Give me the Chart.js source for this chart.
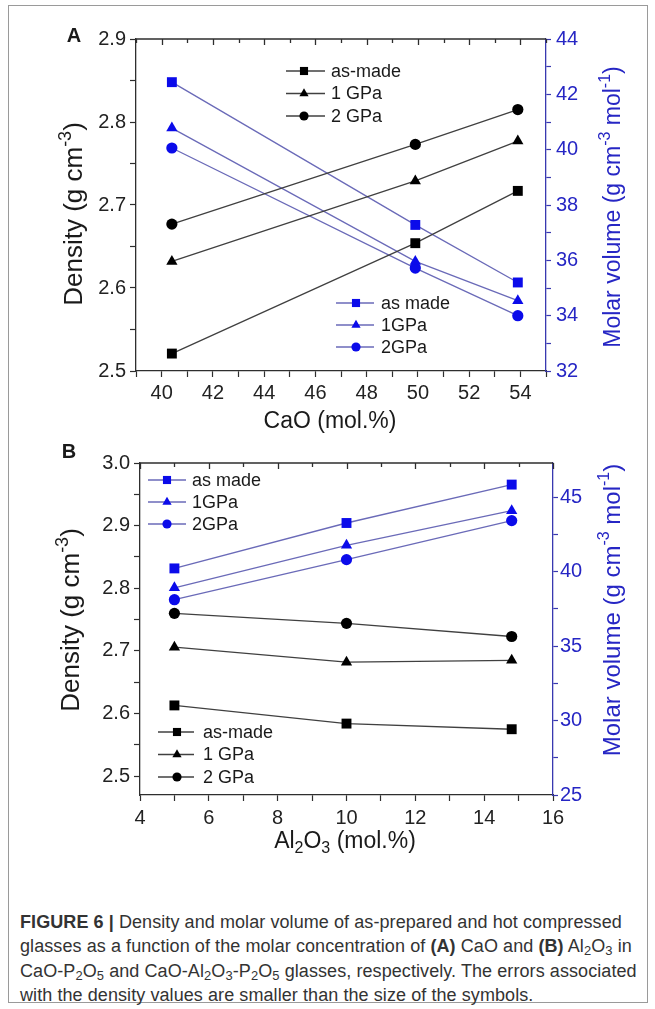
<!DOCTYPE html>
<html>
<head>
<meta charset="utf-8">
<title>Figure 6 - density and molar volume</title>
<script src="https://cdn.jsdelivr.net/npm/chart.js@4.4.1/dist/chart.umd.min.js"></script>
<style>
    html, body { margin: 0; padding: 0; background: #fff; }
    #page { position: relative; width: 655px; height: 1009px; font-family: "Liberation Sans", Arial, sans-serif; }
    #frame { position: absolute; left: 8px; top: 5px; width: 640px; height: 998px; border: 1px solid #9a9a9a; box-sizing: border-box; }
    .panel { position: absolute; left: 0; width: 655px; }
    #boxA { top: 0; height: 440px; }
    #boxB { top: 440px; height: 430px; }
    #caption { position: absolute; left: 20px; top: 910px; font-size: 18px; letter-spacing: 0.08px; line-height: 24.4px; color: #333; white-space: nowrap; }
    #caption sub { font-size: 0.72em; line-height: 0; vertical-align: -0.25em; }
</style>
</head>
<body>
<div id="page">
    <div id="frame"></div>
    <div class="panel" id="boxA"><canvas id="chartA"></canvas></div>
    <div class="panel" id="boxB"><canvas id="chartB"></canvas></div>
    <div id="caption"><b>FIGURE 6 |</b> Density and molar volume of as-prepared and hot compressed<br>glasses as a function of the molar concentration of <b>(A)</b> CaO and <b>(B)</b> Al<sub>2</sub>O<sub>3</sub> in<br>CaO-P<sub>2</sub>O<sub>5</sub> and CaO-Al<sub>2</sub>O<sub>3</sub>-P<sub>2</sub>O<sub>5</sub> glasses, respectively. The errors associated<br>with the density values are smaller than the size of the symbols.</div>
</div>

<script>
// ---- Panel A: CaO-P2O5 glasses ----
const caoA = [40.4, 49.9, 53.9];
const densAsMadeA = [2.521, 2.654, 2.717];
const dens1GPaA = [2.632, 2.729, 2.777];
const dens2GPaA = [2.677, 2.773, 2.815];
const volAsMadeA = [42.44, 37.28, 35.20];
const vol1GPaA = [40.78, 35.96, 34.54];
const vol2GPaA = [40.06, 35.72, 34.00];
const xTicksA = [40, 42, 44, 46, 48, 50, 52, 54];
const densTicksA = [2.5, 2.6, 2.7, 2.8, 2.9];
const volTicksA = [32, 34, 36, 38, 40, 42, 44];

// ---- Panel B: CaO-Al2O3-P2O5 glasses ----
const al2o3B = [5, 10, 14.8];
const densAsMadeB = [2.613, 2.584, 2.575];
const dens1GPaB = [2.706, 2.682, 2.685];
const dens2GPaB = [2.760, 2.744, 2.723];
const volAsMadeB = [40.22, 43.27, 45.85];
const vol1GPaB = [38.92, 41.77, 44.10];
const vol2GPaB = [38.12, 40.81, 43.43];
const xTicksB = [4, 6, 8, 10, 12, 14, 16];
const densTicksB = [2.5, 2.6, 2.7, 2.8, 2.9, 3.0];
const volTicksB = [25, 30, 35, 40, 45];

const blackLabels = ['as-made', '1 GPa', '2 GPa'];
const blueLabels = ['as made', '1GPa', '2GPa'];

const FONT = '"Liberation Sans", Arial, sans-serif';
const AXIS_BLACK = '#2e2e2e';
const AXIS_BLUE = '#3838b0';
const TEXT_BLUE = '#2626c4';
const LINE_BLACK = '#404040';
const LINE_BLUE = '#6a6ab8';
const MARK_BLACK = '#000000';
const MARK_BLUE = '#0b0bea';
const MARKERS = [['rect', 7], ['triangle', 6.5], ['circle', 5.6]];

Chart.defaults.font.family = FONT;
Chart.defaults.color = '#222';

function makeSeries(label, xs, ys, axis, blue, kind) {
    return {
        label: label,
        data: xs.map(function(x, i) { return { x: x, y: ys[i] }; }),
        yAxisID: axis,
        borderColor: blue ? LINE_BLUE : LINE_BLACK,
        borderWidth: 1.3,
        pointStyle: MARKERS[kind][0],
        pointRadius: MARKERS[kind][1],
        pointHoverRadius: MARKERS[kind][1],
        pointBackgroundColor: blue ? MARK_BLUE : MARK_BLACK,
        pointBorderColor: blue ? MARK_BLUE : MARK_BLACK,
        pointBorderWidth: 0,
        tension: 0,
        fill: false
    };
}

function isIn(list, v) {
    return list.some(function(m) { return Math.abs(m - v) < 1e-6; });
}

// major ticks plus one minor tick between each pair, kept inside min..max
function tickValues(cfg) {
    const out = [];
    const half = (cfg.majors[1] - cfg.majors[0]) / 2;
    for (let v = cfg.majors[0] - 4 * half; v <= cfg.max + 1e-9; v += half) {
        if (v >= cfg.min - 1e-9) out.push(Math.round(v * 1000) / 1000);
    }
    return out;
}

function linearAxis(cfg) {
    return {
        type: 'linear',
        position: cfg.position,
        min: cfg.min,
        max: cfg.max,
        afterBuildTicks: function(scale) {
            scale.ticks = tickValues(cfg).map(function(v) { return { value: v }; });
        },
        ticks: {
            autoSkip: false,
            maxRotation: 0,
            padding: cfg.padding,
            color: cfg.textColor,
            font: { size: 20 },
            callback: function(v) {
                return isIn(cfg.majors, v) ? v.toFixed(cfg.decimals) : '';
            }
        },
        grid: {
            drawOnChartArea: false,
            tickLength: cfg.tickLength || 6,
            tickWidth: 1.2,
            tickColor: cfg.lineColor
        },
        border: { color: cfg.lineColor, width: 1.3 },
        afterFit: function(scale) {
            if (cfg.size.w) scale.width = cfg.size.w;
            if (cfg.size.h) scale.height = cfg.size.h;
        }
    };
}

// top frame line with inward ticks, like the original plotting program
const topFrame = {
    id: 'topFrame',
    afterDraw: function(chart) {
        const ctx = chart.ctx, area = chart.chartArea, xs = chart.scales.x;
        ctx.save();
        ctx.strokeStyle = AXIS_BLACK;
        ctx.lineWidth = 1.3;
        ctx.beginPath();
        ctx.moveTo(area.left, area.top);
        ctx.lineTo(area.right, area.top);
        xs.ticks.forEach(function(t) {
            const px = Math.round(xs.getPixelForValue(t.value)) + 0.5;
            const len = t.label ? 6 : 4;
            ctx.moveTo(px, area.top);
            ctx.lineTo(px, area.top + len);
        });
        ctx.stroke();
        ctx.restore();
    }
};

// two separate keys drawn inside the plot
const seriesKey = {
    id: 'seriesKey',
    afterDraw: function(chart, args, opts) {
        const ctx = chart.ctx;
        (opts.groups || []).forEach(function(g) {
            g.items.forEach(function(idx, row) {
                const ds = chart.data.datasets[idx];
                const y = g.y + row * g.gap;
                ctx.save();
                ctx.strokeStyle = ds.borderColor;
                ctx.lineWidth = ds.borderWidth;
                ctx.beginPath();
                ctx.moveTo(g.x, y);
                ctx.lineTo(g.x + g.len, y);
                ctx.stroke();
                ctx.fillStyle = ds.pointBackgroundColor;
                ctx.strokeStyle = ds.pointBorderColor;
                Chart.helpers.drawPoint(ctx, {
                    pointStyle: ds.pointStyle,
                    radius: ds.pointRadius * 0.82,
                    rotation: 0,
                    borderWidth: 0
                }, g.x + g.mark, y);
                ctx.fillStyle = '#1a1a1a';
                ctx.font = '18px ' + FONT;
                ctx.textBaseline = 'middle';
                ctx.textAlign = 'left';
                ctx.fillText(ds.label, g.textX, y + 1);
                ctx.restore();
            });
        });
    }
};

// axis titles with super/subscripts, and the panel letter
const richText = {
    id: 'richText',
    afterDraw: function(chart, args, opts) {
        const ctx = chart.ctx;
        (opts.items || []).forEach(function(it) {
            const size = it.size || 23;
            const fontOf = function(seg) {
                const s = seg[1] ? Math.round(size * 0.68) : size;
                return (it.bold ? 'bold ' : '') + s + 'px ' + FONT;
            };
            ctx.save();
            ctx.translate(it.x, it.y);
            ctx.rotate(it.rot || 0);
            ctx.fillStyle = it.color || '#1a1a1a';
            ctx.textBaseline = 'middle';
            ctx.textAlign = 'left';
            let total = 0;
            it.segs.forEach(function(seg) {
                ctx.font = fontOf(seg);
                total += ctx.measureText(seg[0]).width;
            });
            let cx = -total / 2;
            it.segs.forEach(function(seg) {
                ctx.font = fontOf(seg);
                const dy = seg[1] === 'sup' ? -size * 0.36 : (seg[1] === 'sub' ? size * 0.3 : 0);
                ctx.fillText(seg[0], cx, dy);
                cx += ctx.measureText(seg[0]).width;
            });
            ctx.restore();
        });
    }
};

const densTitle = [['Density (g cm'], ['-3', 'sup'], [')']];
const volTitle = [['Molar volume (g cm'], ['-3', 'sup'], [' mol'], ['-1', 'sup'], [')']];

new Chart(document.getElementById('chartA'), {
    type: 'line',
    data: {
        datasets: [
            makeSeries(blackLabels[0], caoA, densAsMadeA, 'y', false, 0),
            makeSeries(blackLabels[1], caoA, dens1GPaA, 'y', false, 1),
            makeSeries(blackLabels[2], caoA, dens2GPaA, 'y', false, 2),
            makeSeries(blueLabels[0], caoA, volAsMadeA, 'y2', true, 0),
            makeSeries(blueLabels[1], caoA, vol1GPaA, 'y2', true, 1),
            makeSeries(blueLabels[2], caoA, vol2GPaA, 'y2', true, 2)
        ]
    },
    options: {
        responsive: true,
        maintainAspectRatio: false,
        devicePixelRatio: 1,
        animation: false,
        layout: { padding: { top: 39, left: 0, right: 0, bottom: 0 } },
        scales: {
            x: linearAxis({ position: 'bottom', min: 39, max: 55, majors: xTicksA, decimals: 0,
                padding: 4, textColor: '#222', lineColor: AXIS_BLACK, size: { h: 69 } }),
            y: linearAxis({ position: 'left', min: 2.5, max: 2.9, majors: densTicksA, decimals: 1,
                padding: 4, textColor: '#222', lineColor: AXIS_BLACK, size: { w: 136 } }),
            y2: linearAxis({ position: 'right', min: 32, max: 44, majors: volTicksA, decimals: 0,
                padding: 5, textColor: TEXT_BLUE, lineColor: AXIS_BLUE, tickLength: 5, size: { w: 109 } })
        },
        plugins: {
            legend: { display: false },
            tooltip: { enabled: false },
            seriesKey: {
                groups: [
                    { items: [0, 1, 2], x: 286, len: 39, mark: 18, textX: 331, y: 71, gap: 22.5 },
                    { items: [3, 4, 5], x: 336, len: 38, mark: 20, textX: 381, y: 303, gap: 22 }
                ]
            },
            richText: {
                items: [
                    { segs: [['A']], x: 74, y: 36, size: 20, bold: true },
                    { segs: densTitle, x: 75, y: 214, rot: -Math.PI / 2, size: 26 },
                    { segs: volTitle, x: 614, y: 207, rot: -Math.PI / 2, color: TEXT_BLUE },
                    { segs: [['CaO (mol.%)']], x: 330, y: 422 }
                ]
            }
        }
    },
    plugins: [topFrame, seriesKey, richText]
});

new Chart(document.getElementById('chartB'), {
    type: 'line',
    data: {
        datasets: [
            makeSeries(blackLabels[0], al2o3B, densAsMadeB, 'y', false, 0),
            makeSeries(blackLabels[1], al2o3B, dens1GPaB, 'y', false, 1),
            makeSeries(blackLabels[2], al2o3B, dens2GPaB, 'y', false, 2),
            makeSeries(blueLabels[0], al2o3B, volAsMadeB, 'y2', true, 0),
            makeSeries(blueLabels[1], al2o3B, vol1GPaB, 'y2', true, 1),
            makeSeries(blueLabels[2], al2o3B, vol2GPaB, 'y2', true, 2)
        ]
    },
    options: {
        responsive: true,
        maintainAspectRatio: false,
        devicePixelRatio: 1,
        animation: false,
        layout: { padding: { top: 23, left: 0, right: 0, bottom: 0 } },
        scales: {
            x: linearAxis({ position: 'bottom', min: 4, max: 16, majors: xTicksB, decimals: 0,
                padding: 5, textColor: '#222', lineColor: AXIS_BLACK, size: { h: 75 } }),
            y: linearAxis({ position: 'left', min: 2.47, max: 3.0, majors: densTicksB, decimals: 1,
                padding: 4, textColor: '#222', lineColor: AXIS_BLACK, size: { w: 140 } }),
            y2: linearAxis({ position: 'right', min: 25, max: 47.3, majors: volTicksB, decimals: 0,
                padding: 2, textColor: TEXT_BLUE, lineColor: AXIS_BLUE, tickLength: 5, size: { w: 102 } })
        },
        plugins: {
            legend: { display: false },
            tooltip: { enabled: false },
            seriesKey: {
                groups: [
                    { items: [3, 4, 5], x: 148, len: 38, mark: 19, textX: 192, y: 40, gap: 22 },
                    { items: [0, 1, 2], x: 158, len: 36, mark: 19, textX: 203, y: 292, gap: 22.5 }
                ]
            },
            richText: {
                items: [
                    { segs: [['B']], x: 69, y: 12, size: 20, bold: true },
                    { segs: densTitle, x: 72, y: 180, rot: -Math.PI / 2, size: 26 },
                    { segs: volTitle, x: 613, y: 170, rot: -Math.PI / 2, color: TEXT_BLUE, size: 24 },
                    { segs: [['Al'], ['2', 'sub'], ['O'], ['3', 'sub'], [' (mol.%)']], x: 345, y: 402 }
                ]
            }
        }
    },
    plugins: [topFrame, seriesKey, richText]
});
</script>
</body>
</html>
